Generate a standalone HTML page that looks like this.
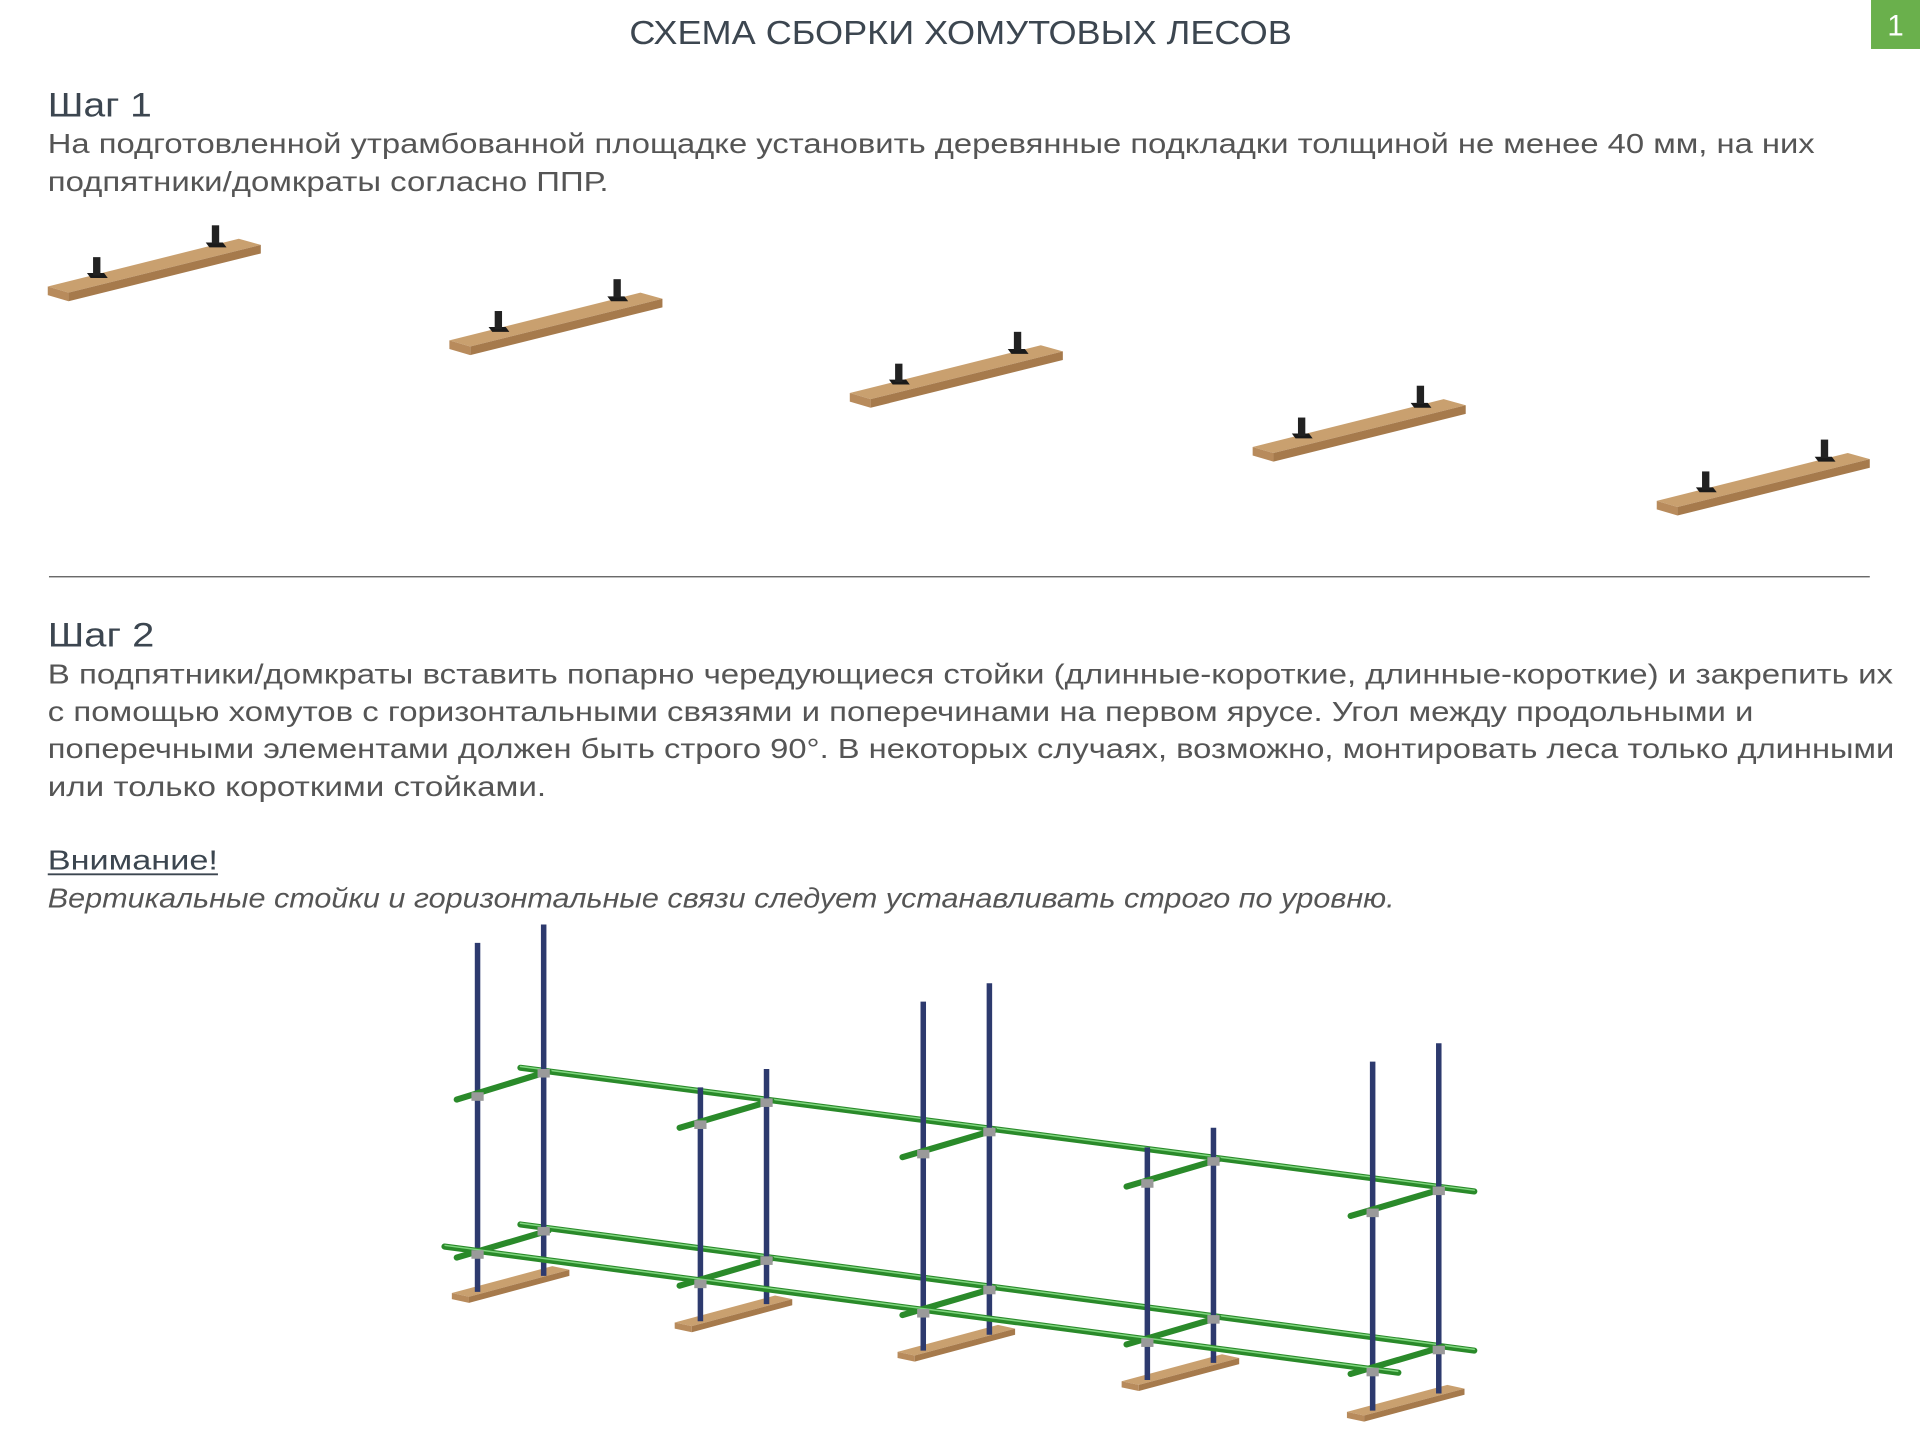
<!DOCTYPE html>
<html><head><meta charset="utf-8"><style>
html,body{margin:0;padding:0;background:#fff}
svg{display:block}
text{font-family:"Liberation Sans","DejaVu Sans",sans-serif}
</style></head><body>
<svg width="1920" height="1440" viewBox="0 0 1568 1176" xmlns="http://www.w3.org/2000/svg">
<defs>
<g id="board">
  <polygon points="0,-7 156,-46 174,-41 17,-2" fill="#c9a06f"/>
  <polygon points="17,-2 174,-41 174,-34 17,5" fill="#a67a4c"/>
  <polygon points="0,-7 17,-2 17,5 0,0" fill="#b88b5c"/>
  <polygon points="32,-18 46,-18 49,-14 35,-14" fill="#1a1a1a"/>
  <rect x="37" y="-31" width="6" height="15" fill="#222"/>
  <polygon points="129,-43 143,-43 146,-39 132,-39" fill="#1a1a1a"/>
  <rect x="134" y="-57" width="6" height="15" fill="#222"/>
</g>
<g id="sboard">
  <polygon points="0,-5 82,-27 96,-24 14,-2" fill="#c9a06f"/>
  <polygon points="14,-2 96,-24 96,-19 14,3" fill="#a67a4c"/>
  <polygon points="0,-5 14,-2 14,3 0,0" fill="#b88b5c"/>
</g>
</defs>
<rect x="1528" y="0" width="40" height="40" fill="#6ab04c"/>
<text x="1548" y="29" font-size="24" fill="#fff" text-anchor="middle">1</text>
<text x="514" y="36" font-size="27" fill="#3c4650" textLength="541" lengthAdjust="spacingAndGlyphs">СХЕМА СБОРКИ ХОМУТОВЫХ ЛЕСОВ</text>
<text x="39" y="95" font-size="28" fill="#3c4650" textLength="85" lengthAdjust="spacingAndGlyphs">Шаг 1</text>
<g font-size="23" fill="#555">
<text x="39" y="125" textLength="1443" lengthAdjust="spacingAndGlyphs">На подготовленной утрамбованной площадке установить деревянные подкладки толщиной не менее 40 мм, на них</text>
<text x="39" y="156" textLength="458" lengthAdjust="spacingAndGlyphs">подпятники/домкраты согласно ППР.</text>
</g>
<use href="#board" x="39" y="241"/>
<use href="#board" x="367" y="285"/>
<use href="#board" x="694" y="328"/>
<use href="#board" x="1023" y="372"/>
<use href="#board" x="1353" y="416"/>
<line x1="40" y1="471" x2="1527" y2="471" stroke="#555" stroke-width="1"/>
<text x="39" y="528" font-size="28" fill="#3c4650" textLength="87" lengthAdjust="spacingAndGlyphs">Шаг 2</text>
<g font-size="23" fill="#555">
<text x="39" y="558" textLength="1507" lengthAdjust="spacingAndGlyphs">В подпятники/домкраты вставить попарно чередующиеся стойки (длинные-короткие, длинные-короткие) и закрепить их</text>
<text x="39" y="589" textLength="1393" lengthAdjust="spacingAndGlyphs">с помощью хомутов с горизонтальными связями и поперечинами на первом ярусе. Угол между продольными и</text>
<text x="39" y="619" textLength="1508" lengthAdjust="spacingAndGlyphs">поперечными элементами должен быть строго 90°. В некоторых случаях, возможно, монтировать леса только длинными</text>
<text x="39" y="650" textLength="407" lengthAdjust="spacingAndGlyphs">или только короткими стойками.</text>
<text x="39" y="710" fill="#3c4650" textLength="139" lengthAdjust="spacingAndGlyphs">Внимание!</text>
<text x="39" y="741" font-style="italic" textLength="1100" lengthAdjust="spacingAndGlyphs">Вертикальные стойки и горизонтальные связи следует устанавливать строго по уровню.</text>
</g>
<line x1="39" y1="714" x2="178" y2="714" stroke="#3c4650" stroke-width="1.5"/>
<use href="#sboard" x="369" y="1061"/>
<use href="#sboard" x="551" y="1085"/>
<use href="#sboard" x="733" y="1109"/>
<use href="#sboard" x="916" y="1133"/>
<use href="#sboard" x="1100" y="1158"/>
<g stroke-linecap="round">
<line x1="425" y1="872" x2="1204" y2="973" stroke="#2a8a2a" stroke-width="5"/>
<line x1="425" y1="871" x2="1204" y2="972" stroke="#7fd67f" stroke-width="1.2"/>
<line x1="425" y1="1000" x2="1204" y2="1103" stroke="#2a8a2a" stroke-width="5"/>
<line x1="425" y1="999" x2="1204" y2="1102" stroke="#7fd67f" stroke-width="1.2"/>
</g>
<g stroke="#2d3a6e" stroke-width="4.5">
<line x1="390" y1="770" x2="390" y2="1055"/><line x1="444" y1="755" x2="444" y2="1042"/>
<line x1="572" y1="888" x2="572" y2="1079"/><line x1="626" y1="873" x2="626" y2="1065"/>
<line x1="754" y1="818" x2="754" y2="1103"/><line x1="808" y1="803" x2="808" y2="1090"/>
<line x1="937" y1="937" x2="937" y2="1127"/><line x1="991" y1="921" x2="991" y2="1113"/>
<line x1="1121" y1="867" x2="1121" y2="1152"/><line x1="1175" y1="852" x2="1175" y2="1138"/>
</g>
<g stroke="#2a8a2a" stroke-width="5" stroke-linecap="round">
<line x1="373" y1="898" x2="448" y2="875"/><line x1="555" y1="921" x2="630" y2="899"/>
<line x1="737" y1="945" x2="812" y2="923"/><line x1="920" y1="969" x2="995" y2="947"/>
<line x1="1103" y1="993" x2="1178" y2="971"/>
<line x1="373" y1="1027" x2="448" y2="1005"/><line x1="555" y1="1050" x2="630" y2="1028"/>
<line x1="737" y1="1074" x2="812" y2="1052"/><line x1="920" y1="1098" x2="995" y2="1076"/>
<line x1="1103" y1="1122" x2="1178" y2="1100"/>
</g>
<line x1="363" y1="1018" x2="1142" y2="1121" stroke="#2a8a2a" stroke-width="5" stroke-linecap="round"/>
<line x1="363" y1="1017" x2="1142" y2="1120" stroke="#7fd67f" stroke-width="1.2"/>
<g fill="#9a9a9a">
<rect x="385" y="892" width="10" height="7"/><rect x="439" y="873" width="10" height="7"/>
<rect x="567" y="915" width="10" height="7"/><rect x="621" y="897" width="10" height="7"/>
<rect x="749" y="939" width="10" height="7"/><rect x="803" y="921" width="10" height="7"/>
<rect x="932" y="963" width="10" height="7"/><rect x="986" y="945" width="10" height="7"/>
<rect x="1116" y="987" width="10" height="7"/><rect x="1170" y="969" width="10" height="7"/>
<rect x="385" y="1021" width="10" height="7"/><rect x="439" y="1002" width="10" height="7"/>
<rect x="567" y="1045" width="10" height="7"/><rect x="621" y="1026" width="10" height="7"/>
<rect x="749" y="1069" width="10" height="7"/><rect x="803" y="1050" width="10" height="7"/>
<rect x="932" y="1093" width="10" height="7"/><rect x="986" y="1074" width="10" height="7"/>
<rect x="1116" y="1117" width="10" height="7"/><rect x="1170" y="1099" width="10" height="7"/>
</g>
</svg>
</body></html>
